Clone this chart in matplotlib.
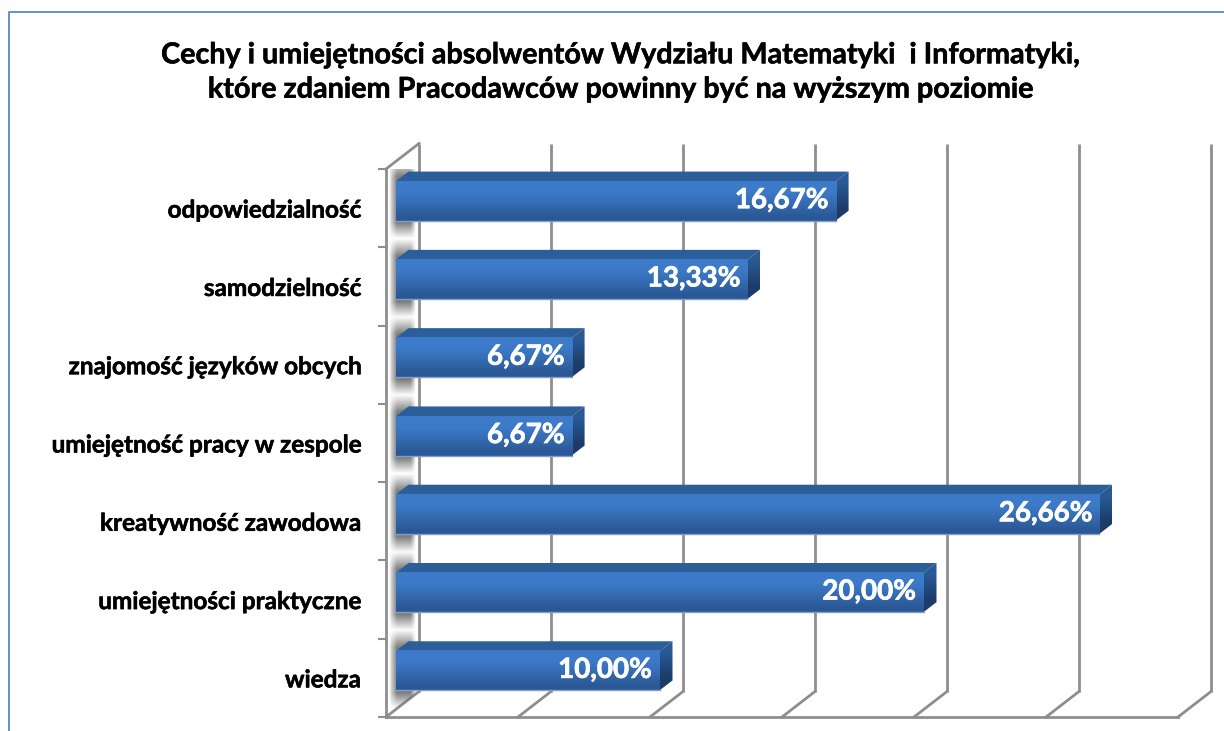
import numpy as np
import matplotlib
matplotlib.use('Agg')
import matplotlib.pyplot as plt
import matplotlib.patheffects as pe
from matplotlib.patches import Polygon
from matplotlib.transforms import Affine2D

plt.rcParams['font.family'] = ['Lato', 'DejaVu Sans']

categories = ['odpowiedzialność', 'samodzielność', 'znajomość języków obcych',
              'umiejętność pracy w zespole', 'kreatywność zawodowa',
              'umiejętności praktyczne', 'wiedza']
values = [16.67, 13.33, 6.67, 6.67, 26.66, 20.00, 10.00]
value_labels = ['16,67%', '13,33%', '6,67%', '6,67%', '26,66%', '20,00%', '10,00%']
title = ('Cechy i umiejętności absolwentów Wydziału Matematyki  i Informatyki,\n'
         'które zdaniem Pracodawców powinny być na wyższym poziomie')

W, H = 1224, 731
GRID = '#8e8e8e'
heavy = [pe.withStroke(linewidth=0.4, foreground='black')]
heavy_white = [pe.withStroke(linewidth=0.5, foreground='white')]

fig = plt.figure(figsize=(W / 100, H / 100), dpi=100)
fig.patch.set_facecolor('white')
# plot area in pixels: front floor 386..1178, y 169..717
ax = fig.add_axes([386 / W, 1 - 717 / H, 792 / W, 548 / H])
ax.set_facecolor('none')

# chart border, the right side is cut off in the reference
fig.add_artist(plt.Line2D([9 / W, 9 / W, 1], [0, 1 - 12 / H, 1 - 12 / H],
                          color='#5b87c5', lw=1.3, transform=fig.transFigure))


def off(dx, dy):
    # data coordinates moved by some pixels, for the fake 3d depth
    return ax.transData + Affine2D().translate(dx, -dy)


n = len(categories)
xmax = 30
xticks = np.arange(0, xmax + 1, 5)
ybounds = np.arange(n + 1)
ycent = np.arange(n) + 0.5
ppx = xmax / 792
ppy = n / 548

BX, BY = 33, -25.5   # back wall offset
FX, FY = 9.5, -7     # bar front face offset
DX, DY = 13, -10     # bar depth
half = 0.25

# back wall and floor lines
for x in xticks:
    ax.plot([x, x], [0, n], color=GRID, lw=2.0, transform=off(BX, BY), clip_on=False,
            solid_capstyle='butt', zorder=1)
    ax.plot([x, x + BX * ppx], [n, n + BY * ppy], color=GRID, lw=2.0, clip_on=False, zorder=1)
ax.plot([0, BX * ppx], [0, BY * ppy], color=GRID, lw=2.0, clip_on=False, zorder=1)

# shadows on the left wall, clipped to it
wall = Polygon([(0, 0), (BX * ppx, BY * ppy), (BX * ppx, n + BY * ppy), (0, n)],
               closed=True, fc='white', ec='none', zorder=0, clip_on=False)
ax.add_patch(wall)
xs = np.linspace(0, 1, 40)
ys = np.linspace(0, 1, 80)
x_prof = np.clip(np.minimum(xs / 0.3, (1 - xs) / 0.2), 0, 1) ** 0.8
y_prof = np.clip(np.minimum(ys / 0.22, (1 - ys) / 0.2), 0, 1)
shadow = np.zeros((80, 40, 4))
shadow[..., :3] = 0.4
shadow[..., 3] = np.outer(y_prof, x_prof) * 0.85
for yc in ycent:
    im = ax.imshow(shadow, extent=(3 * ppx, 30 * ppx, yc + 0.40, yc - 0.62),
                   aspect='auto', interpolation='bilinear', zorder=2)
    im.set_clip_path(wall)

# bars
front = np.array([[0.243, 0.486, 0.796], [0.235, 0.475, 0.780], [0.215, 0.435, 0.720],
                  [0.190, 0.390, 0.650], [0.165, 0.345, 0.585]])[:, None, :]
side = np.array([[0.165, 0.350, 0.585], [0.110, 0.235, 0.410]])[:, None, :]
top_c = '#2c5e9a'
for yc, v, lab in zip(ycent, values, value_labels):
    y0, y1 = yc - half, yc + half
    # top face
    ax.add_patch(Polygon([(0, y0), (DX * ppx, y0 + DY * ppy), (v + DX * ppx, y0 + DY * ppy), (v, y0)],
                         closed=True, fc=top_c, ec='none', transform=off(FX, FY), zorder=3, clip_on=False))
    # right side
    side_face = Polygon([(v, y0), (v + DX * ppx, y0 + DY * ppy), (v + DX * ppx, y1 + DY * ppy), (v, y1)],
                        closed=True, transform=off(FX, FY))
    sp = ax.imshow(side, extent=(v, v + DX * ppx, y1, y0 + DY * ppy), aspect='auto',
                   interpolation='bilinear', zorder=3, transform=off(FX, FY))
    sp.set_clip_path(side_face)
    # front face
    ax.imshow(front, extent=(0, v, y1, y0), aspect='auto', interpolation='bilinear',
              zorder=4, transform=off(FX, FY), clip_on=False)
    ax.plot([0, v], [y1, y1], color='#7f9fc9', lw=1.0, transform=off(FX, FY), zorder=5, clip_on=False)
    ax.annotate(lab, xy=(v, yc), xycoords=off(FX, FY), xytext=(-7, 1), textcoords='offset pixels',
                ha='right', va='center', color='white', fontsize=20.0, fontweight='bold', zorder=6,
                path_effects=heavy_white)

ax.set_xlim(0, xmax)
ax.set_ylim(n, 0)
ax.set_xticks([])
ax.set_yticks(ybounds)
ax.set_yticklabels([])
ax.set_yticks(ycent, minor=True)
ax.set_yticklabels(categories, minor=True, fontsize=17.5, fontweight='bold', path_effects=heavy)
ax.tick_params(axis='y', which='major', length=6, width=1.5, color=GRID)
ax.tick_params(axis='y', which='minor', length=0, pad=18)
for s in ['top', 'right']:
    ax.spines[s].set_visible(False)
for s in ['left', 'bottom']:
    ax.spines[s].set_color(GRID)
    ax.spines[s].set_linewidth(2.0)
    ax.spines[s].set_zorder(1)

fig.text(621 / W, 1 - 72.5 / H, title, ha='center', va='center', fontsize=20.7, fontweight='bold',
         linespacing=1.4, color='black', path_effects=heavy)

fig.savefig('out.png', dpi=100)
